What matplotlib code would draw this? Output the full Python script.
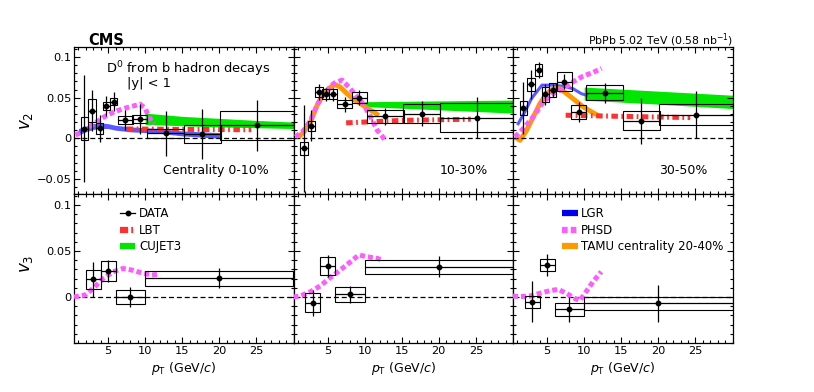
import numpy as np
import matplotlib
matplotlib.use('Agg')
import matplotlib.pyplot as plt
from matplotlib.ticker import MultipleLocator, FuncFormatter
from matplotlib.patches import Rectangle
from matplotlib.lines import Line2D

# ---------------- data: v2 of D0 from b decays ----------------
pt_v2 = [1.8, 2.8, 3.85, 4.75, 5.75, 7.3, 9.25, 12.75, 17.7, 25.1]
hw_v2 = [0.5, 0.5, 0.5, 0.5, 0.5, 1.0, 1.0, 2.5, 2.5, 5.0]

v2_0_10 = [0.012, 0.034, 0.0125, 0.0395, 0.045, 0.0228, 0.0236, 0.006, 0.005, 0.016]
stat_v2_0_10 = [0.066, 0.025, 0.0165, 0.012, 0.012, 0.012, 0.018, 0.0275, 0.031, 0.031]
syst_v2_0_10 = [0.014, 0.0144, 0.0068, 0.0048, 0.0045, 0.0047, 0.0047, 0.0055, 0.011, 0.0177]

v2_10_30 = [-0.0125, 0.0152, 0.0572, 0.0543, 0.0543, 0.042, 0.050, 0.0272, 0.0305, 0.0255]
stat_v2_10_30 = [0.0535, 0.019, 0.010, 0.008, 0.008, 0.0093, 0.0093, 0.0103, 0.0154, 0.0257]
syst_v2_10_30 = [0.0076, 0.0066, 0.0058, 0.0062, 0.0062, 0.0047, 0.0064, 0.0078, 0.0113, 0.0179]

v2_30_50 = [0.0374, 0.0663, 0.084, 0.054, 0.059, 0.0695, 0.0325, 0.056, 0.0214, 0.0292]
stat_v2_30_50 = [0.032, 0.018, 0.0097, 0.013, 0.008, 0.009, 0.0123, 0.012, 0.028, 0.029]
syst_v2_30_50 = [0.0086, 0.008, 0.0078, 0.0093, 0.0088, 0.0115, 0.0088, 0.0093, 0.0117, 0.013]

# ---------------- data: v3 ----------------
pt_v3 = [3.0, 5.0, 8.0, 20.0]
hw_v3 = [1.0, 1.0, 2.0, 10.0]

v3_0_10 = [0.0192, 0.0283, 0.0, 0.0203]
stat_v3_0_10 = [0.019, 0.0115, 0.0105, 0.011]
syst_v3_0_10 = [0.010, 0.0105, 0.0075, 0.0083]

v3_10_30 = [-0.0062, 0.0337, 0.0029, 0.033]
stat_v3_10_30 = [0.014, 0.012, 0.0094, 0.0113]
syst_v3_10_30 = [0.0103, 0.0103, 0.0085, 0.0076]

v3_30_50 = [-0.0051, 0.0348, -0.0134, -0.0069]
stat_v3_30_50 = [0.022, 0.012, 0.0138, 0.020]
syst_v3_30_50 = [0.0067, 0.0068, 0.0069, 0.0070]

# ---------------- models ----------------
# LGR
lgr_pt_0_10 = [1.0, 2.0, 3.0, 4.0, 5.0, 6.0, 8.0, 10.0, 12.0, 15.0, 20.0]
lgr_lo_0_10 = [0.004, 0.008, 0.011, 0.012, 0.012, 0.010, 0.008, 0.007, 0.006, 0.003, 0.000]
lgr_hi_0_10 = [0.012, 0.015, 0.018, 0.019, 0.018, 0.016, 0.014, 0.013, 0.012, 0.009, 0.007]
lgr_pt_30_50 = [1.1, 2.0, 2.9, 4.3, 5.8, 7.2, 8.5, 9.6, 10.3]
lgr_v2_30_50 = [0.018, 0.0325, 0.049, 0.0654, 0.0654, 0.064, 0.061, 0.055, 0.053]

# LBT
lbt_pt = [7.5, 15.0, 24.3]
lbt_0_10 = [0.0115, 0.011, 0.0105]
lbt_10_30 = [0.019, 0.022, 0.0235]
lbt_30_50 = [0.0284, 0.027, 0.0255]

# CUJET3
cujet_pt_0_10 = [10, 15, 20, 25, 30]
cujet_lo_0_10 = [0.017, 0.0155, 0.014, 0.013, 0.012]
cujet_hi_0_10 = [0.031, 0.027, 0.0245, 0.022, 0.020]
cujet_pt = [10, 20, 30]
cujet_lo_10_30 = [0.039, 0.035, 0.031]
cujet_hi_10_30 = [0.045, 0.046, 0.047]
cujet_lo_30_50 = [0.047, 0.042, 0.0366]
cujet_hi_30_50 = [0.063, 0.058, 0.053]

# TAMU (centrality 20-40%)
tamu_pt_10_30 = [1.1, 1.8, 2.7, 3.6, 4.5, 5.4, 6.05, 6.7, 7.6, 8.5, 9.4, 10.3, 11.2, 11.9]
tamu_v2_10_30 = [0.0016, 0.0078, 0.020, 0.041, 0.055, 0.063, 0.066, 0.063, 0.055, 0.048, 0.043, 0.037, 0.0325, 0.028]
tamu_pt_30_50 = [0.67, 1.34, 2.24, 3.13, 4.03, 4.93, 5.83, 6.73, 7.63, 8.74, 9.86, 11.0, 11.9]
tamu_v2_30_50 = [0.0016, -0.0025, 0.0099, 0.0263, 0.0428, 0.055, 0.061, 0.061, 0.055, 0.047, 0.0387, 0.0325, 0.028]

# PHSD
phsd_pt_v2_0_10 = [0.6, 1.5, 3.1, 4.4, 5.8, 7.1, 8.5, 9.3, 10.0, 10.5, 11.2]
phsd_v2_0_10 = [0.004, 0.008, 0.018, 0.026, 0.0325, 0.0366, 0.040, 0.042, 0.037, 0.026, 0.018]
phsd_pt_v2_10_30 = [0.67, 1.79, 2.69, 3.59, 4.48, 5.83, 6.95, 7.85, 9.0, 9.9, 10.8, 11.7, 12.8]
phsd_v2_10_30 = [0.0016, 0.0099, 0.022, 0.041, 0.055, 0.0675, 0.0716, 0.063, 0.051, 0.041, 0.0263, 0.0099, -0.0025]
phsd_pt_v2_30_50 = [0.67, 1.79, 3.13, 4.48, 5.83, 7.17, 8.5, 9.86, 11.2, 12.34]
phsd_v2_30_50 = [0.0016, 0.012, 0.0263, 0.0449, 0.055, 0.061, 0.0695, 0.0765, 0.081, 0.086]
phsd_pt_v3_0_10 = [0.4, 1.9, 3.0, 4.3, 5.7, 7.0, 8.4, 9.7, 10.9, 12.0]
phsd_v3_0_10 = [0.0, 0.0022, 0.0094, 0.020, 0.0275, 0.031, 0.029, 0.0257, 0.0239, 0.025]
phsd_pt_v3_10_30 = [0.4, 1.3, 2.7, 4.0, 5.4, 6.7, 8.1, 9.2, 10.3, 11.7, 12.5]
phsd_v3_10_30 = [0.0, 0.0011, 0.0058, 0.012, 0.0214, 0.0293, 0.0384, 0.0457, 0.0438, 0.042, 0.040]
phsd_pt_v3_30_50 = [0.4, 1.3, 2.7, 4.0, 5.4, 6.5, 7.6, 8.7, 9.4, 10.1, 11.2, 12.3]
phsd_v3_30_50 = [0.001, 0.0004, 0.0011, 0.004, 0.0069, 0.0083, 0.004, -0.0014, -0.004, 0.004, 0.0167, 0.0275]

cent_labels = ['Centrality 0-10%', '10-30%', '30-50%']

# colours / styles
c_green = '#00e600'
c_blue = '#3c3cff'
c_red = '#ff3030'
c_pink = '#ff5cff'
c_orange = '#ff9900'
lbt_ls = (0, (1.3, 0.7, 0.35, 0.7))
phsd_ls = (0, (1.0, 0.6))

fig = plt.figure(figsize=(8.14, 3.92), dpi=100)
x0 = 74 / 814.
w = 219.5 / 814.
top_b, top_h = 1 - 194 / 392., 147 / 392.
bot_b, bot_h = 1 - 343 / 392., 149 / 392.
axes_top = [fig.add_axes([x0 + i * w, top_b, w, top_h]) for i in range(3)]
axes_bot = [fig.add_axes([x0 + i * w, bot_b, w, bot_h]) for i in range(3)]


def fmt(v, pos):
    if abs(v) < 1e-9:
        return '0'
    return ('%g' % round(v, 3)).replace('-', '\u2212')


def style(ax, ylim, xlab, ylab, yticks):
    ax.set_xlim(0.4, 30)
    ax.set_ylim(*ylim)
    ax.xaxis.set_major_locator(MultipleLocator(5))
    ax.xaxis.set_minor_locator(MultipleLocator(1))
    ax.set_yticks(yticks)
    ax.yaxis.set_minor_locator(MultipleLocator(0.01))
    ax.yaxis.set_major_formatter(FuncFormatter(fmt))
    ax.tick_params(which='both', direction='in', top=True, right=True,
                   labelsize=8.2, width=0.8, pad=2)
    ax.tick_params(which='major', length=4.3)
    ax.tick_params(which='minor', length=2.3)
    ax.set_xticks([5, 10, 15, 20, 25])
    if not xlab:
        ax.tick_params(labelbottom=False)
    if not ylab:
        ax.tick_params(labelleft=False)
    for s in ax.spines.values():
        s.set_linewidth(0.9)
    ax.axhline(0, color='black', lw=0.9, ls=(0, (4, 2.3)), zorder=2)


def draw_data(ax, pt, hw, val, stat, syst):
    for x, h, y, s in zip(pt, hw, val, syst):
        ax.add_patch(Rectangle((x - h, y - s), 2 * h, 2 * s, fill=False,
                               ec='black', lw=0.8, zorder=5))
    ax.errorbar(pt, val, yerr=stat, xerr=hw, fmt='o', color='black', ms=3.2,
                lw=0.9, capsize=0, zorder=6)


top_ylim = (-0.0685, 0.1123)
bot_ylim = (-0.05, 0.112)

# ---- top row: v2 ----
ax = axes_top[0]
ax.fill_between(cujet_pt_0_10, cujet_lo_0_10, cujet_hi_0_10, color=c_green, lw=0, zorder=1)
ax.fill_between(lgr_pt_0_10, lgr_lo_0_10, lgr_hi_0_10, color=c_blue, alpha=0.85, lw=0, zorder=1)
ax.plot(lbt_pt, lbt_0_10, color=c_red, lw=3.6, ls=lbt_ls, zorder=3)
ax.plot(phsd_pt_v2_0_10, phsd_v2_0_10, color=c_pink, lw=3.6, ls=phsd_ls, zorder=3)
draw_data(ax, pt_v2, hw_v2, v2_0_10, stat_v2_0_10, syst_v2_0_10)

ax = axes_top[1]
ax.fill_between(cujet_pt, cujet_lo_10_30, cujet_hi_10_30, color=c_green, lw=0, zorder=1)
ax.plot(tamu_pt_10_30, tamu_v2_10_30, color=c_orange, lw=3.5, solid_capstyle='butt', zorder=2)
ax.plot(lbt_pt, lbt_10_30, color=c_red, lw=3.6, ls=lbt_ls, zorder=3)
ax.plot(phsd_pt_v2_10_30, phsd_v2_10_30, color=c_pink, lw=3.6, ls=phsd_ls, zorder=3)
draw_data(ax, pt_v2, hw_v2, v2_10_30, stat_v2_10_30, syst_v2_10_30)

ax = axes_top[2]
ax.fill_between(cujet_pt, cujet_lo_30_50, cujet_hi_30_50, color=c_green, lw=0, zorder=1)
ax.plot(lgr_pt_30_50, lgr_v2_30_50, color=c_blue, lw=2.2, alpha=0.85, zorder=2)
ax.plot(tamu_pt_30_50, tamu_v2_30_50, color=c_orange, lw=3.5, solid_capstyle='butt', zorder=2)
ax.plot(lbt_pt, lbt_30_50, color=c_red, lw=3.6, ls=lbt_ls, zorder=3)
ax.plot(phsd_pt_v2_30_50, phsd_v2_30_50, color=c_pink, lw=3.6, ls=phsd_ls, zorder=3)
draw_data(ax, pt_v2, hw_v2, v2_30_50, stat_v2_30_50, syst_v2_30_50)

for i, ax in enumerate(axes_top):
    style(ax, top_ylim, False, i == 0, [-0.05, 0, 0.05, 0.1])
    ax.text(0.888, 0.136, cent_labels[i], transform=ax.transAxes, ha='right',
            va='baseline', fontsize=9)

axes_top[0].text(0.52, 0.823, r'D$^{0}$ from b hadron decays', transform=axes_top[0].transAxes,
                 ha='center', va='baseline', fontsize=9.4)
axes_top[0].text(0.342, 0.725, '|y| < 1', transform=axes_top[0].transAxes,
                 ha='center', va='baseline', fontsize=9.4)

# ---- bottom row: v3 ----
phsd_v3 = [(phsd_pt_v3_0_10, phsd_v3_0_10), (phsd_pt_v3_10_30, phsd_v3_10_30),
           (phsd_pt_v3_30_50, phsd_v3_30_50)]
v3_sets = [(v3_0_10, stat_v3_0_10, syst_v3_0_10), (v3_10_30, stat_v3_10_30, syst_v3_10_30),
           (v3_30_50, stat_v3_30_50, syst_v3_30_50)]
for i, ax in enumerate(axes_bot):
    ax.plot(phsd_v3[i][0], phsd_v3[i][1], color=c_pink, lw=3.6, ls=phsd_ls, zorder=3)
    draw_data(ax, pt_v3, hw_v3, *v3_sets[i])
    style(ax, bot_ylim, True, i == 0, [0, 0.05, 0.1])
    ax.set_xlabel(r'$p_{\mathrm{T}}$ (GeV/$c$)', fontsize=9, labelpad=3)

# legends
h_data = Line2D([], [], color='black', marker='o', ms=3.2, lw=0.9)
h_lbt = Line2D([], [], color=c_red, lw=4.5, ls=(0, (1.3, 0.5, 0.3, 0.5)))
h_cujet = Line2D([], [], color=c_green, lw=4.5, solid_capstyle='butt')
leg1 = axes_bot[0].legend([h_data, h_lbt, h_cujet], ['DATA', 'LBT', 'CUJET3'],
                          loc='upper left', bbox_to_anchor=(0.21, 0.91), frameon=False,
                          fontsize=8.5, handlelength=1.3, handletextpad=0.3,
                          labelspacing=0.3, borderpad=0, borderaxespad=0)
h_lgr = Line2D([], [], color='#0000f0', lw=4.5, solid_capstyle='butt')
h_phsd = Line2D([], [], color=c_pink, lw=4.5, ls=(0, (0.9, 0.5)))
h_tamu = Line2D([], [], color=c_orange, lw=4.5, solid_capstyle='butt')
leg2 = axes_bot[2].legend([h_lgr, h_phsd, h_tamu], ['LGR', 'PHSD', 'TAMU centrality 20-40%'],
                          loc='upper left', bbox_to_anchor=(0.225, 0.91), frameon=False,
                          fontsize=8.5, handlelength=1.3, handletextpad=0.3,
                          labelspacing=0.3, borderpad=0, borderaxespad=0)

# axis titles and header
fig.text(26 / 814., 1 - 121 / 392., r'$v_{2}$', rotation=90, ha='center', va='center', fontsize=12)
fig.text(26 / 814., 1 - 264 / 392., r'$v_{3}$', rotation=90, ha='center', va='center', fontsize=12)
fig.text(88 / 814., 1 - 45 / 392., 'CMS', fontsize=10.5, fontweight='bold', ha='left', va='baseline')
fig.text(733 / 814., 1 - 44 / 392., r'PbPb 5.02 TeV (0.58 nb$^{-1}$)', fontsize=7.8,
         ha='right', va='baseline')

fig.savefig('out.png', dpi=100)
